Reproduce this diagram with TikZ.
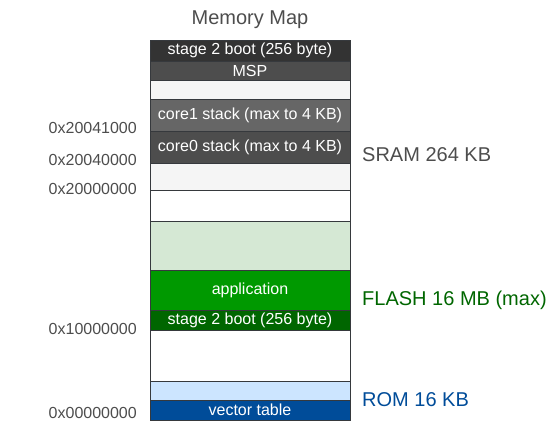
\documentclass[tikz,border=0pt]{standalone}
\usepackage{fontspec}
\setmainfont{Liberation Sans}
\usetikzlibrary{positioning}

\definecolor{edgegray}{HTML}{36393D}
\definecolor{labelgray}{HTML}{4D4D4D}
\definecolor{boot2gray}{HTML}{333333}
\definecolor{mspgray}{HTML}{4D4D4D}
\definecolor{coreonegray}{HTML}{666666}
\definecolor{freegray}{HTML}{F5F5F5}
\definecolor{flashgreen}{HTML}{009900}
\definecolor{flashdark}{HTML}{006600}
\definecolor{flashlight}{HTML}{D5E8D4}
\definecolor{romlight}{HTML}{CCE5FF}
\definecolor{romblue}{HTML}{004C99}

\begin{document}
\begin{tikzpicture}[
  x=1pt, y=-1pt,
  memblock/.style={rectangle, draw=edgegray, line width=1pt,
                   minimum width=200pt, inner sep=0pt, text=white,
                   font=\fontsize{16}{19}\selectfont},
  addr/.style={anchor=east, text=labelgray, inner sep=0pt,
               font=\fontsize{16}{19}\selectfont},
  region/.style={anchor=west, inner sep=0pt,
                 font=\fontsize{20}{24}\selectfont}
]
\useasboundingbox (0,0) rectangle (551,431);

% Title
\node[text=labelgray, font=\fontsize{20}{24}\selectfont] (title) at (250, 20) {Memory Map};

% SRAM region (top)
\node[memblock, fill=boot2gray,   minimum height=21pt] (sboot) at (250, 50.5)  {stage 2 boot (256 byte)};
\node[memblock, fill=mspgray,     minimum height=19pt] (msp)   at (250, 70.5)  {MSP};
\node[memblock, fill=freegray,    minimum height=19pt] (sfree) at (250, 89.5)  {};
\node[memblock, fill=coreonegray, minimum height=32pt] (core1) at (250, 115)   {core1 stack (max to 4 KB)};
\node[memblock, fill=mspgray,     minimum height=32pt] (core0) at (250, 147)   {core0 stack (max to 4 KB)};
\node[memblock, fill=freegray,    minimum height=27pt] (sbase) at (250, 176.5) {};

% gap between SRAM and FLASH
\node[memblock, fill=white, minimum height=31pt] (gaphi) at (250, 205.5) {};

% FLASH region
\node[memblock, fill=flashlight, minimum height=49pt] (ffree) at (250, 245.5) {};
\node[memblock, fill=flashgreen, minimum height=40pt] (app)   at (250, 290)   {application};
\node[memblock, fill=flashdark,  minimum height=20pt] (fboot) at (250, 320)   {stage 2 boot (256 byte)};

% gap between FLASH and ROM
\node[memblock, fill=white, minimum height=51pt] (gaplo) at (250, 355.5) {};

% ROM region
\node[memblock, fill=romlight, minimum height=19pt] (rfree) at (250, 390.5) {};
\node[memblock, fill=romblue,  minimum height=20pt] (vtab)  at (250, 410)   {vector table};

% Addresses on left side
\node[addr] (a1) at (137, 128) {0x20041000};
\node[addr] (a2) at (137, 160) {0x20040000};
\node[addr] (a3) at (137, 189) {0x20000000};
\node[addr] (a4) at (137, 329) {0x10000000};
\node[addr] (a5) at (137, 413) {0x00000000};

% Region names on right side
\node[region, text=labelgray] (sram)  at (362, 155) {SRAM 264 KB};
\node[region, text=flashdark] (flash) at (362, 300) {FLASH 16 MB (max)};
\node[region, text=romblue]   (rom)   at (362, 400) {ROM 16 KB};

\end{tikzpicture}
\end{document}
